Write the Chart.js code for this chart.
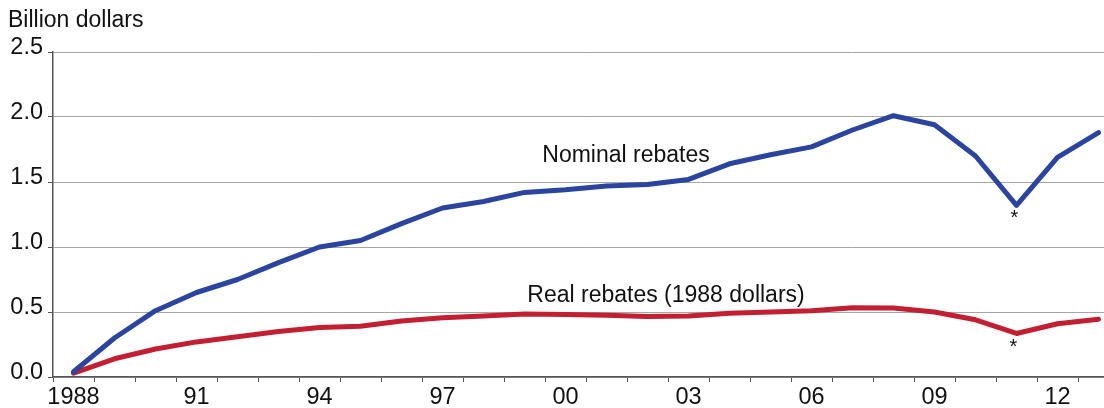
<!DOCTYPE html>
<html>
<head>
<meta charset="utf-8">
<script src="https://cdn.jsdelivr.net/npm/chart.js@4.4.1/dist/chart.umd.min.js"></script>
<style>
  html, body { margin: 0; padding: 0; background: #fff; overflow: hidden; }
  body { width: 1104px; height: 408px; }
  #wrap { width: 1120px; height: 408px; }
</style>
</head>
<body>
<div id="wrap"><canvas id="chartRebates"></canvas></div>
<script>
const years = ["1988", "1989", "1990", "1991", "1992", "1993", "1994", "1995", "1996", "1997", "1998", "1999", "2000",
  "2001", "2002", "2003", "2004", "2005", "2006", "2007", "2008", "2009", "2010", "2011", "2012", "2013"];
const yearLabels = ["1988", "", "", "91", "", "", "94", "", "", "97", "", "", "00",
  "", "", "03", "", "", "06", "", "", "09", "", "", "12", ""];
const nominalRebates = [0.04, 0.30, 0.51, 0.65, 0.75, 0.88, 1.00, 1.05, 1.18, 1.30, 1.35, 1.42, 1.44,
  1.47, 1.48, 1.52, 1.64, 1.71, 1.77, 1.90, 2.01, 1.94, 1.70, 1.32, 1.69, 1.88];
const realRebates = [0.03, 0.14, 0.215, 0.27, 0.31, 0.35, 0.38, 0.39, 0.43, 0.455, 0.47, 0.485, 0.48,
  0.475, 0.465, 0.47, 0.49, 0.50, 0.51, 0.533, 0.53, 0.50, 0.44, 0.335, 0.41, 0.445];
const yTicks = [0, 0.5, 1.0, 1.5, 2.0, 2.5];

const FONT = "'Liberation Sans', Arial, Helvetica, sans-serif";
const BLUE = "#2a44a0";
const RED = "#c21f33";

// text drawn on top: unit label, series labels and asterisks
const notesPlugin = {
  id: "notes",
  afterDraw(chart) {
    const { ctx, scales } = chart;
    const x = scales.x, y = scales.y;
    ctx.save();
    ctx.fillStyle = "#111";
    ctx.textBaseline = "alphabetic";
    ctx.font = "23px " + FONT;
    ctx.textAlign = "left";
    ctx.fillText("Billion dollars", 8, 27);

    ctx.textAlign = "center";
    ctx.fillText("Nominal rebates", 626, 162);
    ctx.fillText("Real rebates (1988 dollars)", 666, 302);

    ctx.font = "20px " + FONT;
    const i = years.indexOf("2011");
    ctx.fillText("*", x.getPixelForValue(i) - 2, y.getPixelForValue(nominalRebates[i]) + 19);
    ctx.fillText("*", x.getPixelForValue(i) - 3, y.getPixelForValue(realRebates[i]) + 20);
    ctx.restore();
  }
};

const ctx = document.getElementById("chartRebates").getContext("2d");
new Chart(ctx, {
  type: "line",
  data: {
    labels: years,
    datasets: [
      {
        label: "Nominal rebates",
        data: nominalRebates,
        borderColor: BLUE,
        borderWidth: 5,
        pointRadius: 0,
        tension: 0,
        borderCapStyle: "round",
        borderJoinStyle: "round",
      },
      {
        label: "Real rebates (1988 dollars)",
        data: realRebates,
        borderColor: RED,
        borderWidth: 5,
        pointRadius: 0,
        tension: 0,
        borderCapStyle: "round",
        borderJoinStyle: "round",
      }
    ]
  },
  options: {
    responsive: true,
    maintainAspectRatio: false,
    animation: false,
    layout: { padding: { left: 0, right: 1, top: 52, bottom: 0 } },
    plugins: {
      legend: { display: false },
      tooltip: { enabled: false },
    },
    scales: {
      x: {
        type: "category",
        offset: true,
        grid: {
          offset: true,
          drawOnChartArea: false,
          drawTicks: true,
          tickLength: 5,
          tickColor: "#555",
        },
        border: { color: "#555", width: 1.5 },
        ticks: {
          autoSkip: false,
          maxRotation: 0,
          padding: 1,
          color: "#111",
          font: { family: FONT, size: 23.5 },
          callback: (v, i) => yearLabels[i],
        },
        afterFit: scale => { scale.height = 31; },
      },
      y: {
        min: 0,
        max: 2.5,
        afterBuildTicks: scale => { scale.ticks = yTicks.map(v => ({ value: v })); },
        grid: {
          color: "#a6a6a6",
          lineWidth: 1,
          tickLength: 5,
          tickColor: "#555",
        },
        border: { color: "#555", width: 1.5 },
        ticks: {
          padding: 5,
          color: "#111",
          font: { family: FONT, size: 23.5, lineHeight: 0.42 },
          callback: value => [Number(value).toFixed(1), ""],
        },
        afterFit: scale => { scale.width = 53; },
      }
    }
  },
  plugins: [notesPlugin]
});
</script>
</body>
</html>
